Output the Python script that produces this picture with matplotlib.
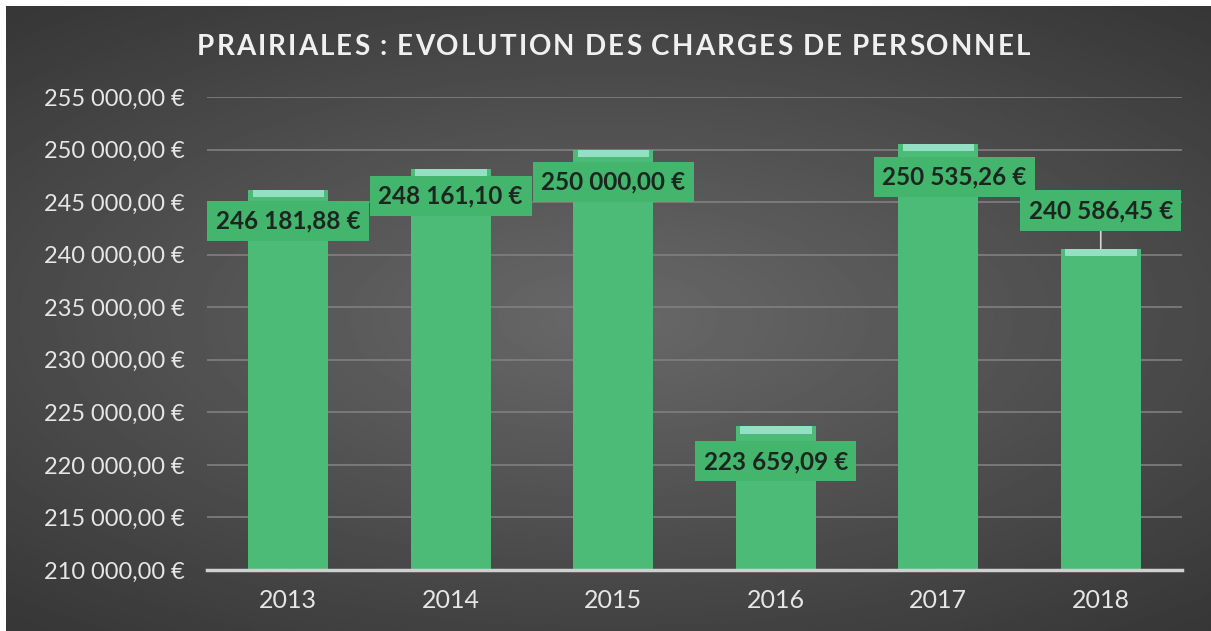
import numpy as np
import matplotlib
matplotlib.use("Agg")
import matplotlib.pyplot as plt

years = ["2013", "2014", "2015", "2016", "2017", "2018"]
charges = [246181.88, 248161.10, 250000.00, 223659.09, 250535.26, 240586.45]
y_ticks = [210000, 215000, 220000, 225000, 230000, 235000, 240000, 245000, 250000, 255000]

title = "PRAIRIALES : EVOLUTION DES CHARGES DE PERSONNEL"


def euro(v):
    # french format, narrow no-break spaces
    s = f"{v:,.2f}".replace(",", "\u202f").replace(".", ",")
    return s + "\u202f€"


plt.rcParams["font.family"] = ["Lato", "DejaVu Sans"]

W, H = 1211, 631
fig = plt.figure(figsize=(W / 100, H / 100), dpi=100, facecolor="white")

# dark gradient background (scanned slide look)
bg = fig.add_axes([6 / W, 0, 1 - 6 / W, 1 - 6 / H])
yy, xx = np.mgrid[-1:1:300j, -1:1:600j]
r = np.sqrt((xx * 0.85) ** 2 + (yy * 1.0) ** 2)
bg.imshow(0.41 - 0.15 * r, cmap="gray", vmin=0, vmax=1, aspect="auto",
          extent=[0, 1, 0, 1], interpolation="bilinear")
bg.set_axis_off()

ax = fig.add_axes([207 / W, 1 - 570 / H, 975 / W, 473 / H])
ax.set_facecolor("none")
x = np.arange(len(years))

bar_green = "#4cbb78"
ax.bar(x, [v - y_ticks[0] for v in charges], bottom=y_ticks[0], width=0.49,
       color=bar_green, zorder=3)
# lighter top cap
cap = 700
ax.bar(x, cap, bottom=[v - cap for v in charges], width=0.44,
       color="#93e0c4", zorder=4)

ax.set_ylim(y_ticks[0], y_ticks[-1])
ax.set_xlim(-0.5, len(years) - 0.5)
ax.set_yticks(y_ticks)
ax.set_yticklabels([euro(t) for t in y_ticks])
ax.set_xticks(x)
ax.set_xticklabels(years)
ax.tick_params(axis="both", length=0, colors="#e6e6e6")
ax.tick_params(axis="y", pad=16, labelsize=17)
ax.tick_params(axis="x", pad=14, labelsize=18)
ax.yaxis.grid(True, color="#808080", linewidth=1.2, zorder=0)
for s in ["top", "right", "left"]:
    ax.spines[s].set_visible(False)
ax.spines["bottom"].set_color("#d0d0d0")
ax.spines["bottom"].set_linewidth(2.5)
ax.spines["bottom"].set_zorder(5)

# data labels (px offsets from the bar top)
offsets = [(0, -31), (0, -27), (0, -32), (0, -35), (16, -33), (0, 38)]
for i, v in enumerate(charges):
    dx, dy = offsets[i]
    ax.annotate(euro(v), (x[i], v), xytext=(dx * 0.72, dy * 0.72),
                textcoords="offset points", ha="center", va="center",
                fontsize=17.5, fontweight="bold", color="#1c2620", zorder=6,
                bbox=dict(boxstyle="square,pad=0.35", fc="#43b56c", ec="none"),
                arrowprops=dict(arrowstyle="-", color="#d8d8d8", lw=1.2,
                                shrinkA=0, shrinkB=0) if dy > 0 else None)

# letter-spaced title, placed char by char
renderer = fig.canvas.get_renderer()
x0, x1 = 197, 1030
chars = []
total = 0
for ch in title:
    t = fig.text(0, 1 - 47 / H, ch, ha="left", va="center", fontsize=20,
                 fontweight="bold", color="#f0f0f0")
    w = t.get_window_extent(renderer).width if ch != " " else 6
    chars.append((t, w))
    total += w
track = (x1 - x0 - total) / (len(title) - 1)
pos = x0
for t, w in chars:
    t.set_x(pos / W)
    pos += w + track

fig.savefig("out.png", dpi=100, facecolor="white")
